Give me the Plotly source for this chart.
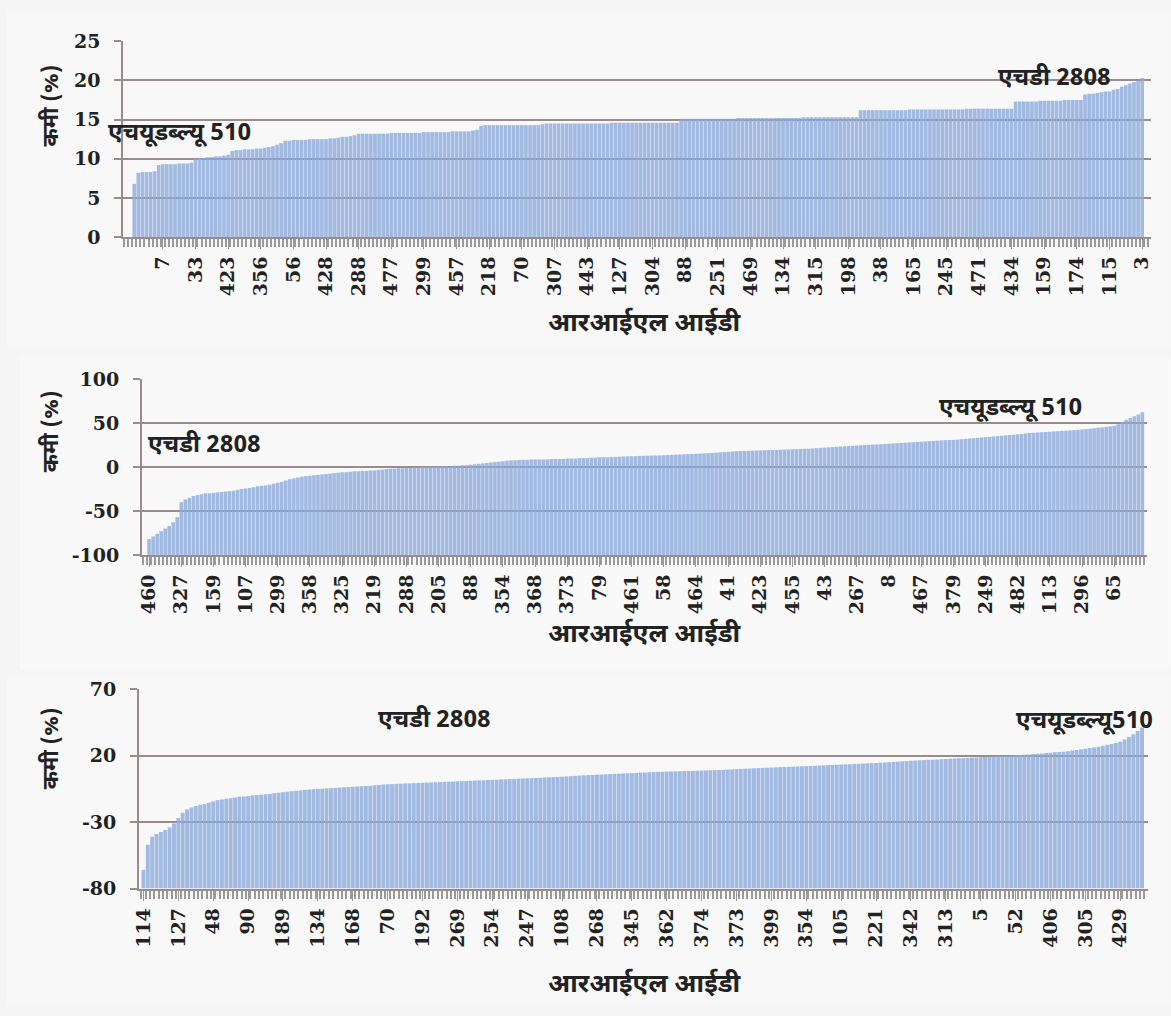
import plotly.graph_objects as go

# ---------------- data ----------------
# Panel 1: sorted values (%), RIL tick labels
p1_values = [
    6.8, 8.2, 8.3, 8.3, 8.3, 8.4,
    9.2, 9.3, 9.3, 9.3, 9.3, 9.4, 9.4, 9.4, 9.5,
    10.0, 10.1, 10.1, 10.2, 10.2, 10.3, 10.3, 10.4, 10.5,
    11.0, 11.1, 11.1, 11.2, 11.2, 11.2, 11.3, 11.3, 11.4, 11.5, 11.6, 11.8, 12.0,
    12.3, 12.3, 12.4, 12.4, 12.4, 12.4, 12.5, 12.5, 12.5, 12.5, 12.5, 12.6, 12.6, 12.7,
    12.8, 12.8, 12.9, 13.0,
    13.2, 13.2, 13.2, 13.2, 13.2, 13.2, 13.2, 13.2,
    13.3, 13.3, 13.3, 13.3, 13.3, 13.3, 13.3, 13.3,
    13.4, 13.4, 13.4, 13.4, 13.4, 13.4, 13.4,
    13.5, 13.5, 13.5, 13.5, 13.5, 13.6, 13.7,
    14.2, 14.3, 14.3, 14.3, 14.3, 14.3, 14.3, 14.3, 14.3, 14.3, 14.3, 14.3, 14.3, 14.3, 14.3, 14.4,
    14.5, 14.5, 14.5, 14.5, 14.5, 14.5, 14.5, 14.5, 14.5, 14.5, 14.5, 14.5, 14.5, 14.5, 14.5, 14.5,
    14.6, 14.6, 14.6, 14.6, 14.6, 14.6, 14.6, 14.6, 14.6, 14.6, 14.6, 14.6, 14.6, 14.6, 14.6, 14.6, 14.6,
    15.1, 15.1, 15.1, 15.1, 15.1, 15.1, 15.1, 15.1, 15.1, 15.1, 15.1, 15.1, 15.1, 15.1,
    15.2, 15.2, 15.2, 15.2, 15.2, 15.2, 15.2, 15.2, 15.2, 15.2, 15.2, 15.2, 15.2, 15.2, 15.2, 15.2,
    15.3, 15.3, 15.3, 15.3, 15.3, 15.3, 15.3, 15.3, 15.3, 15.3, 15.3, 15.3, 15.3, 15.3,
    16.2, 16.2, 16.2, 16.2, 16.2, 16.2, 16.2, 16.2, 16.2, 16.2, 16.2, 16.2,
    16.3, 16.3, 16.3, 16.3, 16.3, 16.3, 16.3, 16.3, 16.3, 16.3, 16.3, 16.3, 16.3, 16.3,
    16.4, 16.4, 16.4, 16.4, 16.4, 16.4, 16.4, 16.4, 16.4, 16.4, 16.4, 16.4,
    17.3, 17.3, 17.3, 17.3, 17.3, 17.3, 17.4, 17.4, 17.4, 17.4, 17.4, 17.4,
    17.5, 17.5, 17.5, 17.5, 17.5,
    18.2, 18.3, 18.3, 18.4, 18.5, 18.6, 18.6, 18.8, 18.9,
    19.2, 19.4, 19.6, 19.8, 20.0, 20.3,
]
p1_ticks = ["7", "33", "423", "356", "56", "428", "288", "477", "299", "457", "218",
            "70", "307", "443", "127", "304", "88", "251", "469", "134", "315", "198",
            "38", "165", "245", "471", "434", "159", "174", "115", "3"]
p1_yticks = [0, 5, 10, 15, 20, 25]

# Panel 2
p2_values = [
    -82, -79, -76, -73, -70, -67, -63, -57, -40, -37, -35, -33, -32, -31, -30,
    -30, -29.5, -29, -28.5, -28, -27.5, -27, -26, -25, -24.5, -24, -23, -22, -21.5, -21,
    -20, -19, -18, -17, -15.5, -14, -13, -12, -11, -10.5, -10, -9.5, -9, -8.5, -8,
    -7.5, -7, -6.5, -6, -6, -5.5, -5, -5, -4.5, -4.5, -4, -4, -3.5, -3, -2.5,
    -2, -2, -1.5, -1.5, -1, -1, -0.5, -0.5, 0, 0, 0, 0.5, 0.5, 1, 1,
    1, 1.5, 1.5, 2, 2, 2.5, 3, 3.5, 4, 4.5, 5, 5.5, 6, 6.5, 7,
    7.5, 7.5, 8, 8, 8, 8.5, 8.5, 8.5, 8.5, 8.5, 9, 9, 9, 9, 9.5,
    9.5, 9.5, 10, 10, 10, 10.5, 10.5, 11, 11, 11,
    11.2, 11.4, 11.6, 11.8, 12.0, 12.2, 12.3, 12.5, 12.6, 12.8, 12.9, 13.0, 13.1,
    13.3, 13.5, 13.7, 13.9, 14.1, 14.3, 14.5, 14.7, 14.9, 15.1, 15.3, 15.6, 15.9, 16.2, 16.5, 16.8, 17.1, 17.5,
    17.8, 18.0, 18.2, 18.4, 18.5, 18.7, 18.8, 19.0, 19.1, 19.3, 19.4, 19.6, 19.8, 19.9, 20.1, 20.2, 20.4, 20.6,
    20.7, 21.0, 21.3, 21.6, 21.9, 22.2, 22.5, 22.8, 23.1, 23.4, 23.7, 24.0, 24.3, 24.6, 24.9, 25.1, 25.4, 25.6, 25.8,
    26.0, 26.3, 26.6, 26.9, 27.2, 27.5, 27.8, 28.1, 28.4, 28.7, 29.0, 29.2, 29.5, 29.8, 30.1, 30.4, 30.6, 30.8,
    31.0, 31.4, 31.8, 32.2, 32.6, 33.0, 33.4, 33.8, 34.2, 34.6, 35.0, 35.4, 35.8, 36.2, 36.6, 37.0, 37.5, 38.0,
    38.5, 38.8, 39.1, 39.4, 39.7, 40.0, 40.3, 40.6, 40.9, 41.2, 41.5, 41.8, 42.2, 42.6,
    43.0, 43.5, 44.0, 44.5, 45.0, 45.5, 46.0, 46.7,
    48.5, 51.0, 53.5, 55.5, 57.5, 59.5, 62.0,
]
p2_ticks = ["460", "327", "159", "107", "299", "358", "325", "219", "288", "205", "88",
            "354", "368", "373", "79", "461", "58", "464", "41", "423", "455", "43",
            "267", "8", "467", "379", "249", "482", "113", "296", "65"]
p2_yticks = [-100, -50, 0, 50, 100]

# Panel 3
p3_values = [
    -66, -47, -41, -39, -37.5, -36, -34, -31, -27, -23, -20.5, -19, -18, -17, -16.5,
    -15.5, -14.5, -13.5, -13, -12.5, -12, -11.5, -11, -10.8, -10.5, -10, -9.7, -9.4, -9.1, -8.8,
    -8.3, -8, -7.6, -7.2, -6.8, -6.5, -6.2, -5.8, -5.5, -5.3, -5.1, -4.9, -4.7, -4.5, -4.3,
    -4.1, -3.9, -3.7, -3.5, -3.3, -3.1, -2.9, -2.7, -2.4, -2.1, -1.8, -1.6,
    -1.5, -1.3, -1.2, -1.0, -0.9, -0.8, -0.6, -0.5, -0.3,
    -0.2, -0.1, 0, 0.2, 0.3, 0.4, 0.6, 0.7, 0.9,
    1.0, 1.2, 1.3, 1.4, 1.6, 1.7, 1.8, 2.0, 2.1,
    2.3, 2.4, 2.6, 2.7, 2.9, 3.0, 3.2, 3.3,
    3.5, 3.6, 3.8, 3.9, 4.1, 4.3, 4.5, 4.7, 4.9,
    5.1, 5.3, 5.4, 5.6, 5.7, 5.9, 6.0, 6.2, 6.3, 6.5, 6.6, 6.8, 6.9, 7.1, 7.2, 7.4, 7.6,
    7.7, 7.8, 7.9, 8.0, 8.1, 8.2, 8.3, 8.4, 8.5, 8.6, 8.7, 8.8, 8.9, 9.0, 9.1, 9.3, 9.5,
    9.6, 9.8, 9.9, 10.1, 10.2, 10.4, 10.5, 10.7, 10.8, 11.0, 11.1, 11.3, 11.4, 11.5, 11.6, 11.8, 11.9,
    12.0, 12.2, 12.3, 12.5, 12.6, 12.8, 12.9, 13.1, 13.2, 13.4, 13.5, 13.7, 13.8, 14.0, 14.1, 14.3, 14.4,
    14.6, 14.8, 15.0, 15.2, 15.4, 15.6, 15.8, 16.0, 16.2, 16.4, 16.6, 16.8, 16.9, 17.1, 17.2, 17.4, 17.5,
    17.7, 17.9, 18.0, 18.2, 18.4, 18.5, 18.7, 18.8, 19.0,
    19.2, 19.4, 19.6, 19.8, 20.0, 20.2, 20.4, 20.5,
    20.8, 21.1, 21.4, 21.6, 21.9, 22.1, 22.4, 22.6, 22.9,
    23.3, 23.7, 24.2, 24.6, 25.1, 25.6, 26.1, 26.6,
    27.3, 28.0, 28.7, 29.5, 30.3,
    32.0, 34.0, 36.0, 38.5, 41.0,
]
p3_ticks = ["114", "127", "48", "90", "189", "134", "168", "70", "192", "269", "254",
            "247", "108", "268", "345", "362", "374", "373", "399", "354", "105", "221",
            "342", "313", "5", "52", "406", "305", "429"]
p3_yticks = [-80, -30, 20, 70]

y_title = "कमी (%)"
x_title = "आरआईएल आईडी"
label_hd = "एचडी 2808"
label_huw = "एचयूडब्ल्यू 510"
label_huw_nospace = "एचयूडब्ल्यू510"

# ---------------- layout helpers ----------------
W, H = 1171, 1016
TICK_EVERY = 8


def fx(px):
    return px / W


def fy(py):
    return 1 - py / H


BAR_COLOR = "#8cabdd"
GRID_COLOR = "#9a8c8c"
HATCH_COLOR = "#9a9a9a"
TEXT_COLOR = "#222222"
SERIF = "DejaVu Serif, Liberation Serif, serif"
DEVA = "Noto Sans Devanagari, Lohit Devanagari, Noto Sans, sans-serif"

panels = [
    dict(values=p1_values, ticks=p1_ticks, t0=7, yt=p1_yticks, yr=[0, 25],
         xpx=(117, 1152), ypx=(31, 231), pad=(2.2, 1.7)),
    dict(values=p2_values, ticks=p2_ticks, t0=0, yt=p2_yticks, yr=[-100, 100],
         xpx=(136, 1148), ypx=(376, 556), pad=(1.25, 0.7)),
    dict(values=p3_values, ticks=p3_ticks, t0=0, yt=p3_yticks, yr=[-80, 70],
         xpx=(133, 1149), ypx=(693, 897), pad=(0.5, 0.9)),
]

fig = go.Figure()
layout = dict(
    width=W, height=H,
    margin=dict(l=0, r=0, t=0, b=0),
    paper_bgcolor="#f5f5f5",
    plot_bgcolor="#ffffff",
    showlegend=False,
    bargap=0.1,
)

for k, p in enumerate(panels):
    sfx = "" if k == 0 else str(k + 1)
    n = len(p["values"])
    xs = list(range(n))
    ymin = p["yr"][0]
    # bars rise from the bottom of the value axis (category axis crosses at minimum)
    fig.add_trace(go.Bar(
        x=xs, y=[v - ymin for v in p["values"]], base=ymin,
        xaxis="x" + sfx, yaxis="y" + sfx,
        marker=dict(color=BAR_COLOR, line=dict(width=0)),
        opacity=0.8,
        hoverinfo="skip",
    ))
    tickvals = [p["t0"] + TICK_EVERY * j for j in range(len(p["ticks"]))]
    layout["xaxis" + sfx] = dict(
        domain=[fx(p["xpx"][0]), fx(p["xpx"][1])],
        anchor="y" + sfx,
        range=[-0.5 - p["pad"][0], n - 0.5 + p["pad"][1]],
        tickmode="array", tickvals=tickvals, ticktext=p["ticks"],
        tickangle=270,
        ticks="outside", ticklen=10, tickwidth=1, tickcolor=HATCH_COLOR,
        minor=dict(ticks="outside", ticklen=8, tickwidth=1.5, tickcolor=HATCH_COLOR,
                   tickmode="linear", tick0=-0.5, dtick=1, showgrid=False),
        tickfont=dict(family=SERIF, size=19, color=TEXT_COLOR, weight="bold"),
        showgrid=False, zeroline=False,
        showline=True, linecolor=GRID_COLOR, linewidth=2,
        fixedrange=True,
    )
    layout["yaxis" + sfx] = dict(
        domain=[fy(p["ypx"][1]), fy(p["ypx"][0])],
        anchor="x" + sfx,
        range=p["yr"],
        tickmode="array", tickvals=p["yt"], ticktext=[str(v) for v in p["yt"]],
        ticks="outside", ticklen=7, tickwidth=2, tickcolor=GRID_COLOR,
        ticklabelstandoff=10,
        tickfont=dict(family=SERIF, size=19, color=TEXT_COLOR, weight="bold"),
        showgrid=True, gridcolor=GRID_COLOR, gridwidth=2,
        zeroline=False,
        showline=True, linecolor=GRID_COLOR, linewidth=2,
        fixedrange=True,
    )

ann_font = dict(family=DEVA, size=24, color=TEXT_COLOR, weight="bold")
ytitle_font = dict(family=DEVA, size=22, color=TEXT_COLOR, weight="bold")
xtitle_font = dict(family=DEVA, size=26, color=TEXT_COLOR, weight="bold")

annotations = []
for cy in (97, 430, 754):
    annotations.append(dict(text=y_title, x=fx(46), y=fy(cy), xref="paper", yref="paper",
                            textangle=-90, showarrow=False, font=ytitle_font,
                            xanchor="center", yanchor="middle"))
for cy in (320, 638, 996):
    annotations.append(dict(text=x_title, x=fx(642), y=fy(cy), xref="paper", yref="paper",
                            showarrow=False, font=xtitle_font,
                            xanchor="center", yanchor="middle"))
for txt, lx, cy in [(label_huw, 100, 126), (label_hd, 996, 70),
                    (label_hd, 140, 445), (label_huw, 936, 407),
                    (label_hd, 372, 726), (label_huw_nospace, 1014, 727)]:
    annotations.append(dict(text=txt, x=fx(lx), y=fy(cy), xref="paper", yref="paper",
                            showarrow=False, font=ann_font,
                            xanchor="left", yanchor="middle"))
layout["annotations"] = annotations

layout["shapes"] = [
    dict(type="rect", xref="paper", yref="paper", x0=fx(0), x1=fx(W), y0=fy(345), y1=fy(0),
         fillcolor="#f8f8f8", line=dict(width=0), layer="below"),
    dict(type="rect", xref="paper", yref="paper", x0=fx(13), x1=fx(W), y0=fy(673), y1=fy(353),
         fillcolor="#f9f9f9", line=dict(width=0), layer="below"),
    dict(type="rect", xref="paper", yref="paper", x0=fx(0), x1=fx(W), y0=fy(H), y1=fy(680),
         fillcolor="#f8f8f8", line=dict(width=0), layer="below"),
]

fig.update_layout(**layout)
fig.write_html("out.html")
